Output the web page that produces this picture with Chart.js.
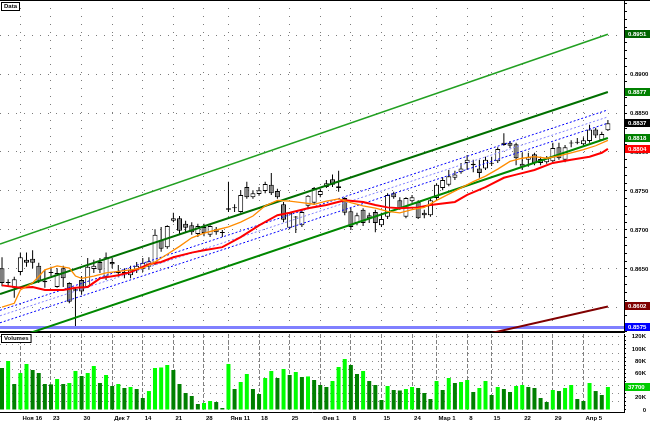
<!DOCTYPE html>
<html>
<head>
<meta charset="utf-8">
<script src="https://cdn.jsdelivr.net/npm/chart.js@4.4.1/dist/chart.umd.min.js"></script>
<style>
  html, body { margin: 0; padding: 0; background: #fff; }
  #wrap { position: relative; width: 650px; height: 423px; overflow: hidden; }
  #grafico-preco { position: absolute; left: 0; top: 0; }
  #grafico-volume { position: absolute; left: 0; top: 334px; }
  #linha-topo { position: absolute; left: 0; top: 0; width: 650px; height: 1px; background: #000; }
</style>
</head>
<body>
<div id="wrap">
  <canvas id="grafico-preco" width="650" height="334"></canvas>
  <canvas id="grafico-volume" width="650" height="89"></canvas>
  <div id="linha-topo"></div>
</div>
<script>
// --- Dados ---
const opens = [
  0.8651, 0.8632, 0.8626, 0.8646, 0.8662, 0.8663, 0.8654, 0.8633, 0.8646, 0.8627,
  0.8651, 0.8632, 0.8622, 0.8636, 0.8627, 0.8650, 0.8659, 0.8640, 0.8659, 0.8647,
  0.8646, 0.8642, 0.8649, 0.8650, 0.8653, 0.8658, 0.8687, 0.8678, 0.8712, 0.8715,
  0.8708, 0.8706, 0.8695, 0.8704, 0.8694, 0.8701, 0.8696, 0.8726, 0.8728, 0.8723,
  0.8755, 0.8742, 0.8746, 0.8750, 0.8758, 0.8750, 0.8733, 0.8703, 0.8716, 0.8706,
  0.8731, 0.8735, 0.8745, 0.8755, 0.8765, 0.8756, 0.8741, 0.8724, 0.8709, 0.8726,
  0.8719, 0.8723, 0.8706, 0.8717, 0.8747, 0.8738, 0.8717, 0.8737, 0.8736, 0.8722,
  0.8719, 0.8741, 0.8754, 0.8758, 0.8767, 0.8774, 0.8786, 0.8783, 0.8779, 0.8779,
  0.8785, 0.8788, 0.8812, 0.8812, 0.8810, 0.8785, 0.8790, 0.8797, 0.8786, 0.8787,
  0.8788, 0.8806, 0.8790, 0.8811, 0.8813, 0.8810, 0.8814, 0.8829, 0.8815, 0.8828
];
const highs = [
  0.8665, 0.8637, 0.8640, 0.8671, 0.8671, 0.8674, 0.8658, 0.8649, 0.8653, 0.8651,
  0.8654, 0.8633, 0.8626, 0.8641, 0.8664, 0.8662, 0.8664, 0.8671, 0.8664, 0.8655,
  0.8651, 0.8654, 0.8659, 0.8664, 0.8665, 0.8701, 0.8704, 0.8706, 0.8722, 0.8718,
  0.8712, 0.8710, 0.8708, 0.8708, 0.8706, 0.8704, 0.8700, 0.8762, 0.8733, 0.8751,
  0.8762, 0.8751, 0.8755, 0.8762, 0.8773, 0.8753, 0.8736, 0.8723, 0.8718, 0.8726,
  0.8745, 0.8755, 0.8753, 0.8764, 0.8771, 0.8776, 0.8742, 0.8728, 0.8722, 0.8728,
  0.8722, 0.8726, 0.8722, 0.8747, 0.8749, 0.8742, 0.8742, 0.8745, 0.8738, 0.8726,
  0.8741, 0.8760, 0.8768, 0.8777, 0.8776, 0.8786, 0.8796, 0.8790, 0.8790, 0.8794,
  0.8794, 0.8806, 0.8824, 0.8814, 0.8812, 0.8799, 0.8799, 0.8799, 0.8794, 0.8795,
  0.8812, 0.8812, 0.8809, 0.8815, 0.8818, 0.8819, 0.8835, 0.8831, 0.8826, 0.8841
];
const lows = [
  0.8628, 0.8627, 0.8613, 0.8642, 0.8653, 0.8651, 0.8632, 0.8626, 0.8641, 0.8626,
  0.8627, 0.8606, 0.8576, 0.8617, 0.8626, 0.8645, 0.8645, 0.8636, 0.8651, 0.8640,
  0.8638, 0.8638, 0.8645, 0.8646, 0.8649, 0.8655, 0.8672, 0.8676, 0.8710, 0.8694,
  0.8697, 0.8694, 0.8691, 0.8692, 0.8691, 0.8694, 0.8691, 0.8723, 0.8723, 0.8722,
  0.8740, 0.8740, 0.8744, 0.8747, 0.8745, 0.8740, 0.8710, 0.8701, 0.8696, 0.8704,
  0.8728, 0.8732, 0.8742, 0.8754, 0.8755, 0.8749, 0.8719, 0.8700, 0.8706, 0.8705,
  0.8709, 0.8697, 0.8704, 0.8714, 0.8740, 0.8726, 0.8715, 0.8735, 0.8714, 0.8715,
  0.8717, 0.8738, 0.8751, 0.8756, 0.8764, 0.8772, 0.8777, 0.8774, 0.8767, 0.8777,
  0.8782, 0.8786, 0.8808, 0.8805, 0.8783, 0.8777, 0.8781, 0.8783, 0.8783, 0.8785,
  0.8787, 0.8790, 0.8787, 0.8806, 0.8810, 0.8808, 0.8812, 0.8818, 0.8814, 0.8827
];
const closes = [
  0.8632, 0.8633, 0.8637, 0.8665, 0.8658, 0.8658, 0.8635, 0.8635, 0.8645, 0.8645,
  0.8638, 0.8608, 0.8624, 0.8621, 0.8653, 0.8654, 0.8649, 0.8665, 0.8656, 0.8645,
  0.8644, 0.8649, 0.8654, 0.8658, 0.8660, 0.8694, 0.8676, 0.8705, 0.8715, 0.8699,
  0.8703, 0.8697, 0.8705, 0.8696, 0.8705, 0.8697, 0.8697, 0.8728, 0.8728, 0.8745,
  0.8742, 0.8747, 0.8751, 0.8759, 0.8747, 0.8742, 0.8713, 0.8722, 0.8717, 0.8723,
  0.8744, 0.8754, 0.8750, 0.8760, 0.8758, 0.8754, 0.8722, 0.8704, 0.8719, 0.8709,
  0.8715, 0.8709, 0.8714, 0.8745, 0.8742, 0.8728, 0.8741, 0.8742, 0.8715, 0.8719,
  0.8738, 0.8758, 0.8764, 0.8769, 0.8771, 0.8779, 0.8790, 0.8785, 0.8773, 0.8790,
  0.8786, 0.8804, 0.8809, 0.8808, 0.8792, 0.8781, 0.8794, 0.8786, 0.8791, 0.8792,
  0.8805, 0.8792, 0.8806, 0.8812, 0.8812, 0.8815, 0.8829, 0.8821, 0.8823, 0.8837
];
const volumes = [
  68900, 80300, 42600, 60700, 75400, 65600, 60700, 42600, 42000, 50800,
  42600, 44300, 63900, 55700, 60700, 72100, 44300, 57400, 39300, 42600,
  36100, 37700, 34400, 19700, 31100, 68900, 69700, 73800, 65600, 42600,
  27900, 23000, 9800, 11500, 14800, 13100, 3300, 75400, 34400, 45900,
  59000, 34400, 26200, 52500, 63900, 52500, 67200, 57400, 62300, 54100,
  55000, 49200, 41000, 37700, 47500, 70500, 83600, 73800, 59000, 63900,
  47500, 41000, 16400, 39300, 32800, 32000, 34400, 37700, 36100, 27900,
  18000, 47500, 32800, 52500, 44300, 45900, 49200, 29500, 36100, 47500,
  24600, 37700, 34400, 29500, 39300, 41000, 37700, 36100, 19700, 13100,
  32800, 31100, 36100, 41000, 18000, 14800, 44300, 31100, 24600, 37700
];

// separadores semanais (posição da barra) e rótulos do eixo
const sepIdx = [3, 8, 13, 18, 23, 28, 33, 37, 42, 47, 52, 57, 62, 67, 71, 76, 80, 85, 90, 95];
const sepLabels = ["Ноя 16", "23", "30", "Дек 7", "14", "21", "28", "Янв 11", "18", "25",
  "Фев 1", "8", "15", "24", "Мар 1", "8", "15", "22", "29", "Апр 5"];

// médias móveis (laranja rápida, vermelha lenta)
const fastIdx = [0, 2, 3, 5, 7, 9, 11, 12, 13, 15, 17, 19, 21, 23, 25, 27, 29, 31, 33, 35,
  37, 39, 41, 43, 45, 47, 49, 51, 53, 55, 57, 59, 61, 63, 65, 67, 69, 71, 73, 75,
  77, 79, 81, 83, 85, 87, 89, 91, 93, 95, 97, 99];
const fastMa = [0.8601, 0.8606, 0.8623, 0.8632, 0.8649, 0.8654, 0.8651, 0.8641, 0.8638, 0.8641,
  0.8645, 0.8647, 0.8649, 0.8651, 0.8659, 0.8669, 0.8679, 0.8690, 0.8696, 0.8700,
  0.8704, 0.8710, 0.8718, 0.8731, 0.8738, 0.8737, 0.8735, 0.8733, 0.8737, 0.8740,
  0.8735, 0.8731, 0.8728, 0.8724, 0.8722, 0.8726, 0.8729, 0.8738, 0.8746, 0.8754,
  0.8762, 0.8769, 0.8778, 0.8788, 0.8792, 0.8794, 0.8792, 0.8795, 0.8799, 0.8803,
  0.8808, 0.8815];
const slowIdx = [0, 3, 5, 7, 10, 12, 14, 16, 19, 21, 24, 26, 28, 31, 33, 36, 39, 42, 45, 47,
  50, 53, 56, 59, 61, 63, 65, 68, 70, 74, 76, 79, 82, 84, 87, 90, 93, 96, 98, 99];
const slowMa = [0.8629, 0.8626, 0.8627, 0.8623, 0.8623, 0.8626, 0.8627, 0.8638, 0.8642, 0.8646,
  0.8656, 0.8659, 0.8665, 0.8671, 0.8674, 0.8678, 0.8691, 0.8706, 0.8719, 0.8722,
  0.8728, 0.8732, 0.8738, 0.8736, 0.8732, 0.8729, 0.8728, 0.8729, 0.8732, 0.8736,
  0.8745, 0.8755, 0.8767, 0.8771, 0.8777, 0.8786, 0.8790, 0.8794, 0.8799, 0.8804];

// linhas de tendência / canais (início, fim)
const chanX = [-0.33, 99];
const chanUpper = [0.8682, 0.8951];
const chanMid = [0.8618, 0.8877];
const chanLower = [0.8555, 0.8818];
const dotTop = [0.8597, 0.8854];
const dotMid = [0.8590, 0.8845];
const dotLow = [0.8581, 0.8837];
const trendX = [80, 99];
const trendMaroon = [0.8568, 0.8602];
const levelX = [-0.33, 101.63];
const levelBlue = [0.8575, 0.8575];

// --- Configuração comum ---
const X_MIN = -0.33, X_MAX = 101.63;
const FONTE = { family: 'Liberation Sans', size: 6, weight: 'bold' };

// sem folga extra do eixo: a área do gráfico ocupa o painel inteiro
const semFolga = (s) => { s.paddingTop = 0; s.paddingBottom = 0; s.paddingLeft = 0; s.paddingRight = 0; };

const linha = (xs, ys, cor, largura, tracejado, ordem) => ({
  type: 'line',
  data: xs.map((x, i) => ({ x, y: ys[i] })),
  borderColor: cor,
  borderWidth: largura,
  borderDash: tracejado || [],
  pointRadius: 0,
  tension: 0,
  fill: false,
  clip: 0,
  order: ordem
});

// caixas de valor no eixo direito + título do painel
const rotulosPainel = {
  id: 'rotulosPainel',
  afterDraw(chart, args, opts) {
    const ctx = chart.ctx;
    const escala = chart.scales[opts.eixo];
    ctx.save();
    ctx.font = 'bold 6px "Liberation Sans"';
    ctx.textBaseline = 'middle';
    const tw = ctx.measureText(opts.titulo).width;
    ctx.fillStyle = '#fff';
    ctx.fillRect(1.5, opts.tituloY + 0.5, tw + 5, 8);
    ctx.strokeStyle = '#000';
    ctx.lineWidth = 1;
    ctx.strokeRect(1.5, opts.tituloY + 0.5, tw + 5, 8);
    ctx.fillStyle = '#000';
    ctx.fillText(opts.titulo, 4, opts.tituloY + 4.8);
    opts.valores.forEach((v, i) => {
      const py = Math.round(escala.getPixelForValue(v));
      ctx.fillStyle = opts.cores[i];
      ctx.fillRect(625, py - 4, 25, 8);
      ctx.fillStyle = '#fff';
      ctx.fillText(opts.textos[i], 628, py + 0.5);
    });
    ctx.restore();
  }
};

// --- Gráfico de preços (velas) ---
const boxVals = [chanUpper[1], chanMid[1], closes[closes.length - 1], chanLower[1],
  slowMa[slowMa.length - 1], trendMaroon[1], levelBlue[1]];
const boxCores = ['#006400', '#008000', '#000000', '#008000', '#ff0000', '#800000', '#0000ff'];

new Chart(document.getElementById('grafico-preco').getContext('2d'), {
  type: 'bar',
  data: {
    datasets: [
      {
        data: lows.map((l, i) => ({ x: i, y: [l, highs[i]] })),
        backgroundColor: '#000',
        barThickness: 1,
        grouped: false,
        inflateAmount: 0,
        order: 20
      },
      {
        data: opens.map((o, i) => ({ x: i, y: [o, closes[i]] })),
        backgroundColor: opens.map((o, i) => closes[i] >= o ? '#ffffff' : '#808080'),
        borderColor: '#000',
        borderWidth: 1,
        borderSkipped: false,
        barThickness: 5,
        minBarLength: 1,
        grouped: false,
        inflateAmount: 0,
        order: 19
      },
      linha(levelX, levelBlue, '#8080ff', 3, null, 10),
      linha(trendX, trendMaroon, '#800000', 2, null, 9),
      linha(chanX, chanUpper, '#22a022', 1.5, null, 8),
      linha(chanX, chanMid, '#007000', 2, null, 8),
      linha(chanX, chanLower, '#008800', 2, null, 8),
      linha(chanX, dotTop, '#0000ff', 1, [2, 2], 7),
      linha(chanX, dotMid, '#8080ff', 1, [2, 2], 7),
      linha(chanX, dotLow, '#0000ff', 1, [2, 2], 7),
      linha(slowIdx, slowMa, '#ff0000', 2, null, 3),
      linha(fastIdx, fastMa, '#ff8c00', 1.3, null, 2)
    ]
  },
  options: {
    responsive: false,
    animation: false,
    devicePixelRatio: 1,
    layout: { padding: 0 },
    plugins: {
      legend: { display: false },
      tooltip: { enabled: false },
      rotulosPainel: {
        eixo: 'y', titulo: 'Data', tituloY: 2,
        valores: boxVals, cores: boxCores,
        textos: boxVals.map(v => v.toFixed(4))
      }
    },
    scales: {
      x: {
        type: 'linear',
        min: X_MIN, max: X_MAX,
        offset: false,
        afterBuildTicks: s => { s.ticks = sepIdx.map(v => ({ value: v })); },
        afterFit: s => { s.height = 2; semFolga(s); },
        ticks: { display: false },
        grid: { color: '#7a7a7a', lineWidth: 1, drawTicks: false, offset: false },
        border: { display: true, color: '#000', width: 2, dash: [1, 7] }
      },
      y: {
        type: 'linear',
        position: 'right',
        min: 0.856922, max: 0.899488,
        afterBuildTicks: s => {
          const t = [];
          for (let k = 857; k <= 899; k++) t.push({ value: k / 1000 });
          s.ticks = t;
        },
        afterFit: s => { s.width = 26; semFolga(s); },
        ticks: {
          autoSkip: false,
          padding: 3,
          color: '#000',
          font: FONTE,
          callback: v => Math.round(v * 1000) % 5 === 0 ? v.toFixed(4) : ''
        },
        grid: {
          color: c => (c.tick && Math.round(c.tick.value * 1000) % 5 === 0) ? '#7a7a7a' : 'rgba(0,0,0,0)',
          tickColor: '#000',
          tickLength: 3,
          lineWidth: 1
        },
        border: { display: true, color: '#000', width: 1, dash: [1, 7] }
      }
    }
  },
  plugins: [rotulosPainel]
});

// --- Gráfico de volumes ---
const volCores = volumes.map((v, i) => i > 0 && v > volumes[i - 1] ? '#00ff00' : '#008000');
const volUltimo = volumes[volumes.length - 1];

new Chart(document.getElementById('grafico-volume').getContext('2d'), {
  type: 'bar',
  data: {
    datasets: [{
      data: volumes.map((v, i) => ({ x: i, y: v })),
      backgroundColor: volCores,
      barThickness: 4,
      grouped: false,
      inflateAmount: 0
    }]
  },
  options: {
    responsive: false,
    animation: false,
    devicePixelRatio: 1,
    layout: { padding: { top: 0, right: 4, left: 0, bottom: 0 } },
    plugins: {
      legend: { display: false },
      tooltip: { enabled: false },
      rotulosPainel: {
        eixo: 'y', titulo: 'Volumes', tituloY: 0,
        valores: [volUltimo], cores: ['#00cc00'],
        textos: [String(volUltimo)]
      }
    },
    scales: {
      x: {
        type: 'linear',
        min: X_MIN, max: X_MAX,
        offset: false,
        afterBuildTicks: s => { s.ticks = sepIdx.map(v => ({ value: v })); },
        afterFit: s => { s.height = 11; semFolga(s); },
        ticks: {
          autoSkip: false,
          maxRotation: 0,
          align: 'start',
          labelOffset: 2,
          padding: 3,
          color: '#000',
          font: FONTE,
          callback: (v, i) => sepLabels[i]
        },
        grid: { color: '#808080', lineWidth: 1, drawTicks: false, offset: false },
        border: { display: true, color: '#000', width: 1, dash: [4, 2] }
      },
      y: {
        type: 'linear',
        position: 'right',
        min: -3279, max: 124590,
        afterBuildTicks: s => {
          const t = [];
          for (let k = 0; k <= 18; k++) t.push({ value: k * 20000 / 3 });
          s.ticks = t;
        },
        afterFit: s => { s.width = 22; semFolga(s); },
        ticks: {
          autoSkip: false,
          crossAlign: 'far',
          padding: 2,
          color: '#000',
          font: FONTE,
          callback: (v, i) => i % 3 !== 0 ? '' : (v === 0 ? '0' : Math.round(v / 1000) + 'K')
        },
        grid: {
          color: c => (c.index % 2 === 0 && c.index > 0) ? '#8a8a8a' : 'rgba(0,0,0,0)',
          tickColor: '#000',
          tickLength: 2,
          lineWidth: 1
        },
        border: { display: true, color: '#000', width: 1, dash: [1, 5] }
      }
    }
  },
  plugins: [rotulosPainel]
});
</script>
</body>
</html>
